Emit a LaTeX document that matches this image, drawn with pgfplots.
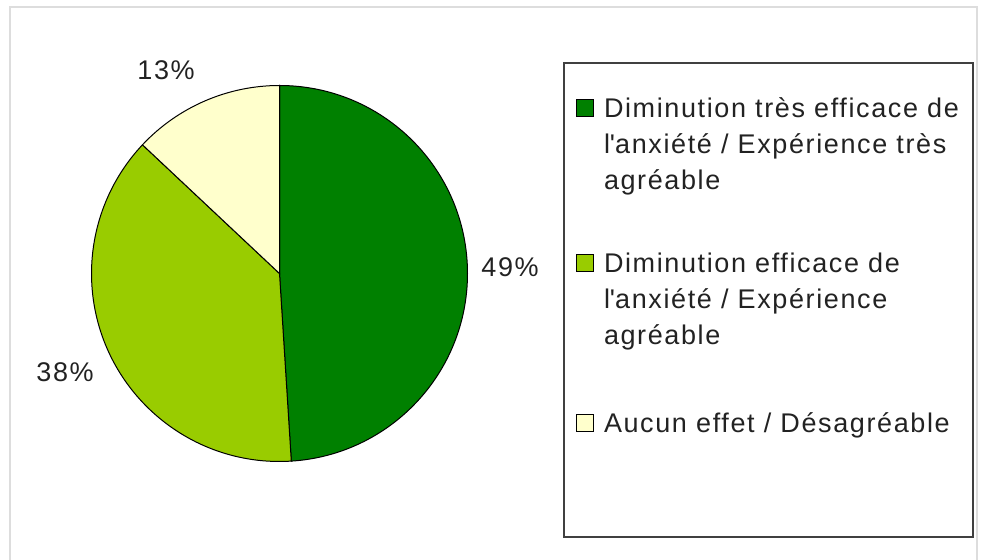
\documentclass[border=0pt]{standalone}
\usepackage{fontspec}
\setmainfont{Liberation Sans}[LetterSpace=6]
\usepackage{pgfplots}
\usepackage{pgfplotstable}
\pgfplotsset{compat=1.18}
\definecolor{pieA}{HTML}{008000}
\definecolor{pieB}{HTML}{99CC00}
\definecolor{pieC}{HTML}{FFFFCC}
\definecolor{txt}{HTML}{222222}
\definecolor{frame}{HTML}{DDDDDD}
\newcommand\chartfont{\fontsize{13.5pt}{18pt}\selectfont}

% shares in percent, clockwise from 12 o'clock
\pgfplotstableread{
share
49
38
13
}\piedata

\pgfplotsset{
  sq/.style={legend image code/.code={
    \draw[fill=#1, draw=black, line width=0.5pt] (0pt,0.5pt) rectangle (8.5pt,9pt);}}
}

\begin{document}
\begin{tikzpicture}
  \pgfplotstablegetelem{0}{share}\of\piedata \let\sA\pgfplotsretval
  \pgfplotstablegetelem{1}{share}\of\piedata \let\sB\pgfplotsretval
  \pgfplotstablegetelem{2}{share}\of\piedata \let\sC\pgfplotsretval
  \pgfmathsetmacro\aA{90-3.6*\sA}
  \pgfmathsetmacro\aB{\aA-3.6*\sB}
  \pgfmathsetmacro\aC{\aB-3.6*\sC}
  \begin{axis}[
    width=491pt, height=280pt, scale only axis,
    xmin=0, xmax=982, ymin=0, ymax=560,
    y dir=reverse,
    hide axis, clip=false,
    legend cell align=left,
    legend style={
      at={(axis cs:576,92)}, anchor=north west,
      draw=none, fill=none, inner sep=0pt, outer sep=0pt,
      row sep=0pt, column sep=5pt,
      font=\chartfont, text=txt,
      cells={anchor=base west},
      nodes={inner sep=0pt, text height=13pt, text depth=5pt}
    }
    ]
    % outer frame
    \draw[frame, line width=0.75pt] (axis cs:10,560) -- (axis cs:10,7) -- (axis cs:977,7) -- (axis cs:977,560);

    % slices
    \filldraw[fill=pieA, draw=black, line width=0.5pt] (axis cs:279.5,273.5) -- ++(90:94pt)
      arc[start angle=90, end angle=\aA, radius=94pt] -- cycle;
    \filldraw[fill=pieB, draw=black, line width=0.5pt] (axis cs:279.5,273.5) -- ++(\aA:94pt)
      arc[start angle=\aA, end angle=\aB, radius=94pt] -- cycle;
    \filldraw[fill=pieC, draw=black, line width=0.5pt] (axis cs:279.5,273.5) -- ++(\aB:94pt)
      arc[start angle=\aB, end angle=\aC, radius=94pt] -- cycle;

    % percentage labels
    \node[anchor=base west, inner sep=0pt, font=\chartfont, text=txt] at (axis cs:481,277) {49\%};
    \node[anchor=base west, inner sep=0pt, font=\chartfont, text=txt] at (axis cs:36,382) {38\%};
    \node[anchor=base west, inner sep=0pt, font=\chartfont, text=txt] at (axis cs:137,80) {13\%};

    % legend frame
    \draw[draw=black!75, line width=1pt] (axis cs:564,63) rectangle (axis cs:973,537);

    \addlegendimage{sq=pieA}
    \addlegendentry{Diminution très efficace de}
    \addlegendimage{empty legend}
    \addlegendentry{l\textquotesingle anxiété / Expérience très}
    \addlegendimage{empty legend}
    \addlegendentry{agréable}
    \addlegendimage{empty legend}
    \addlegendentry[text height=23.5pt, text depth=0pt]{}
    \addlegendimage{sq=pieB}
    \addlegendentry{Diminution efficace de}
    \addlegendimage{empty legend}
    \addlegendentry{l\textquotesingle anxiété / Expérience}
    \addlegendimage{empty legend}
    \addlegendentry{agréable}
    \addlegendimage{empty legend}
    \addlegendentry[text height=26pt, text depth=0pt]{}
    \addlegendimage{sq=pieC}
    \addlegendentry{Aucun effet / Désagréable}
  \end{axis}
  \pgfresetboundingbox
  \path[use as bounding box] (current axis.south west) rectangle (current axis.north east);
\end{tikzpicture}
\end{document}
